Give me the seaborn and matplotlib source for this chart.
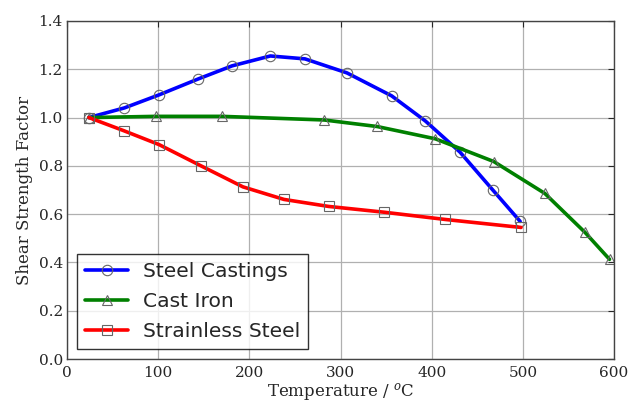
import matplotlib
matplotlib.use("Agg")
import matplotlib.pyplot as plt
import seaborn as sns

# values
steel_x = [24, 63, 101, 144, 181, 223, 261, 307, 356, 393, 431, 467, 497]
steel_y = [1.00, 1.04, 1.094, 1.16, 1.214, 1.255, 1.243, 1.185, 1.09, 0.986, 0.857, 0.70, 0.57]

iron_x = [24, 98, 170, 282, 340, 404, 468, 524, 568, 595]
iron_y = [1.00, 1.005, 1.005, 0.99, 0.963, 0.912, 0.818, 0.686, 0.525, 0.413]

stain_x = [24, 62, 101, 147, 193, 238, 287, 348, 415, 498]
stain_y = [1.00, 0.946, 0.888, 0.80, 0.713, 0.661, 0.632, 0.608, 0.578, 0.545]

names = ["Steel Castings", "Cast Iron", "Strainless Steel"]
colors = ["#0000ff", "#008000", "#ff0000"]
markers = ["o", "^", "s"]

sns.set_style("white")
plt.rcParams["font.family"] = ["DejaVu Serif"]
plt.rcParams["mathtext.fontset"] = "dejavuserif"

fig = plt.figure(figsize=(6.41, 4.03), dpi=100)
ax = fig.add_axes([0.1045, 0.109, 0.8535, 0.839])

series = [(steel_x, steel_y), (iron_x, iron_y), (stain_x, stain_y)]
for (xs, ys), name, c, m in zip(series, names, colors, markers):
    sns.lineplot(x=xs, y=ys, ax=ax, label=name, color=c, lw=2.6,
                 marker=m, markersize=7.5, markerfacecolor="none",
                 markeredgecolor="#666666", markeredgewidth=0.8, sort=False)

ax.set_xlim(0, 600)
ax.set_ylim(0, 1.4)
ax.set_xticks(range(0, 601, 100))
ax.set_yticks([0.0, 0.2, 0.4, 0.6, 0.8, 1.0, 1.2, 1.4])
ax.set_yticklabels(["0.0", "0.2", "0.4", "0.6", "0.8", "1.0", "1.2", "1.4"])
ax.grid(True, color="#b0b0b0", lw=0.9)
ax.tick_params(direction="in", length=4, top=True, right=True, labelsize=11)
ax.tick_params(axis="y", pad=3)
ax.tick_params(axis="x", pad=5)
for s in ax.spines.values():
    s.set_color("#444444")
    s.set_linewidth(1.0)

ax.set_xlabel(r"Temperature / $^o$C", fontsize=12, labelpad=1)
ax.set_ylabel("Shear Strength Factor", fontsize=12)

leg = ax.legend(loc="lower left", prop={"family": "DejaVu Sans", "size": 14.6},
                fancybox=False, frameon=True, edgecolor="black",
                handlelength=2.1, handletextpad=0.75, borderaxespad=0.5,
                labelspacing=0.53, borderpad=0.4)
leg.get_frame().set_linewidth(1.0)

fig.savefig("out.png", dpi=100)
